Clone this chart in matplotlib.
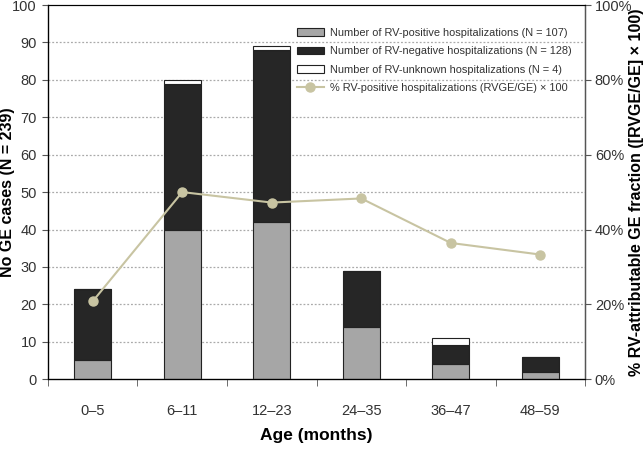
import matplotlib
matplotlib.use("Agg")
import matplotlib.pyplot as plt
import numpy as np

categories = ["0–5", "6–11", "12–23", "24–35", "36–47", "48–59"]
rv_positive = [5, 40, 42, 14, 4, 2]
rv_negative = [19, 39, 46, 15, 5, 4]
rv_unknown = [0, 1, 1, 0, 2, 0]
pct_positive = [20.8, 50.0, 47.2, 48.3, 36.4, 33.3]

plt.rcParams['font.family'] = ['Liberation Sans', 'DejaVu Sans']

fig = plt.figure(figsize=(6.44, 4.59), dpi=100)
ax = fig.add_axes([0.0745, 0.174, 0.834, 0.815])
x = np.arange(len(categories))
w = 0.41
pos = np.array(rv_positive)
neg = np.array(rv_negative)
unk = np.array(rv_unknown)

for yv in range(10, 100, 10):
    ax.axhline(yv, color='#aaaaaa', lw=0.9, ls=(0, (1.5, 1.5)), zorder=0)

b1 = ax.bar(x, pos, w, color='#a6a6a6', edgecolor='#222222', lw=0.8, zorder=2,
            label='Number of RV-positive hospitalizations (N = 107)')
b2 = ax.bar(x, neg, w, bottom=pos, color='#262626', edgecolor='#222222', lw=0.8, zorder=2,
            label='Number of RV-negative hospitalizations (N = 128)')
b3 = ax.bar(x, unk, w, bottom=pos + neg, color='white', edgecolor='#222222', lw=0.8, zorder=2,
            label='Number of RV-unknown hospitalizations (N = 4)')

ax.set_xlim(-0.5, len(categories) - 0.5)
ax.set_ylim(0, 100)
ax.set_yticks(range(0, 101, 10))
ax.set_xticks(x)
ax.set_xticklabels(categories, fontsize=10.5, color='#333333')
ax.tick_params(axis='x', length=0, pad=18)
ax.set_xticks(np.arange(-0.5, len(categories), 1), minor=True)
ax.tick_params(axis='x', which='minor', length=5, direction='out', color='#555555')
ax.tick_params(axis='y', labelsize=10.5, labelcolor='#333333', color='#555555', length=4, pad=4)
ax.set_xlabel('Age (months)', fontsize=12.5, fontweight='bold', labelpad=7)
ax.set_ylabel('No GE cases (N = 239)', fontsize=11.5, fontweight='bold')
ax.yaxis.set_label_coords(-0.062, 0.5)
for s in ['left', 'right', 'bottom']:
    ax.spines[s].set_color('#555555')
    ax.spines[s].set_linewidth(1.0)
ax.spines['top'].set_color('#333333')

ax2 = ax.twinx()
ax2.set_ylim(0, 100)
ax2.set_yticks(range(0, 101, 20))
ax2.set_yticklabels([f"{v}%" for v in range(0, 101, 20)])
ax2.tick_params(axis='y', labelsize=10.5, labelcolor='#333333', color='#555555', length=4, pad=3)
ax2.spines['right'].set_color('#555555')
l1, = ax2.plot(x, pct_positive, color='#c8c4a2', lw=1.5, marker='o', ms=6.5,
               markerfacecolor='#c8c4a2', markeredgecolor='#c8c4a2', zorder=3,
               label='% RV-positive hospitalizations (RVGE/GE) × 100')
ax2.set_ylabel('% RV-attributable GE fraction ([RVGE/GE] × 100)', fontsize=11.5,
               fontweight='bold')
ax2.yaxis.set_label_coords(1.081, 0.5)

handles = [b1, b2, b3, l1]
leg = ax2.legend(handles=handles, loc='upper left', frameon=False, fontsize=7.95,
                 bbox_to_anchor=(297 / 644, 1 - 28 / 459), bbox_transform=fig.transFigure,
                 handlelength=2.4, labelspacing=0.75, handletextpad=0.6,
                 borderaxespad=0, borderpad=0)
for t in leg.get_texts():
    t.set_color('#333333')

fig.savefig('out.png', dpi=100)
